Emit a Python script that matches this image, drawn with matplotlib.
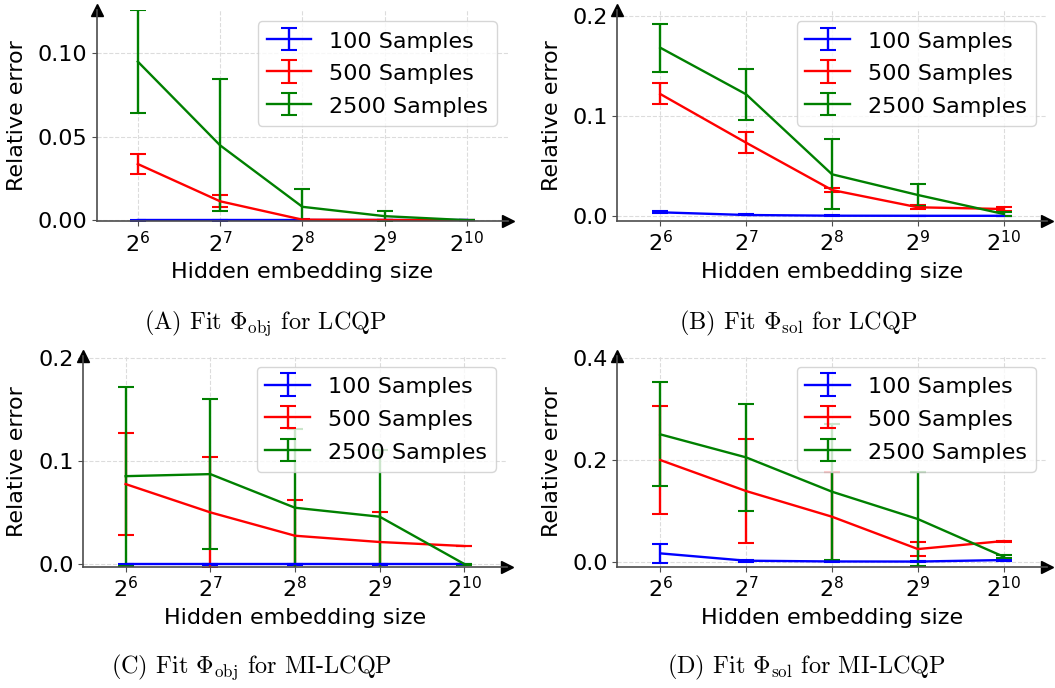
import matplotlib
matplotlib.use("Agg")
import matplotlib.pyplot as plt
from matplotlib.ticker import NullLocator, FormatStrFormatter

# ------------------------------------------------------------
# values
# ------------------------------------------------------------
HIDDEN = [64, 128, 256, 512, 1024]
LABELS = ["100 Samples", "500 Samples", "2500 Samples"]
COLORS = ["blue", "red", "green"]

# (A) Fit Phi_obj for LCQP
a_mean_100  = [0.0001, 0.0001, 0.0001, 0.0001, 0.0001]
a_err_100   = [0.0002, 0.0002, 0.0001, 0.0001, 0.0001]
a_mean_500  = [0.0338, 0.0115, 0.0005, 0.0003, 0.0001]
a_err_500   = [0.0058, 0.0035, 0.0003, 0.0002, 0.0001]
a_mean_2500 = [0.0951, 0.0450, 0.0082, 0.0026, 0.0002]
a_err_2500  = [0.0310, 0.0395, 0.0107, 0.0030, 0.0002]

# (B) Fit Phi_sol for LCQP
b_mean_100  = [0.0037, 0.0010, 0.0003, 0.0002, 0.0002]
b_err_100   = [0.0010, 0.0005, 0.0002, 0.0002, 0.0002]
b_mean_500  = [0.1220, 0.0733, 0.0260, 0.0087, 0.0070]
b_err_500   = [0.0105, 0.0107, 0.0020, 0.0020, 0.0020]
b_mean_2500 = [0.1683, 0.1217, 0.0417, 0.0210, 0.0020]
b_err_2500  = [0.0242, 0.0255, 0.0350, 0.0107, 0.0020]

# (C) Fit Phi_obj for MI-LCQP
c_mean_100  = [0.0000, 0.0000, 0.0000, 0.0000, 0.0000]
c_err_100   = [0.0005, 0.0005, 0.0005, 0.0005, 0.0005]
c_mean_500  = [0.0777, 0.0502, 0.0275, 0.0214, 0.0175]
c_err_500   = [0.0497, 0.0540, 0.0346, 0.0294, 0.0003]
c_mean_2500 = [0.0854, 0.0874, 0.0547, 0.0460, 0.0000]
c_err_2500  = [0.0870, 0.0730, 0.0770, 0.0650, 0.0005]

# (D) Fit Phi_sol for MI-LCQP
d_mean_100  = [0.0164, 0.0020, 0.0005, 0.0003, 0.0033]
d_err_100   = [0.0180, 0.0020, 0.0005, 0.0005, 0.0010]
d_mean_500  = [0.2000, 0.1390, 0.0885, 0.0249, 0.0407]
d_err_500   = [0.1066, 0.1017, 0.0870, 0.0138, 0.0010]
d_mean_2500 = [0.2505, 0.2052, 0.1377, 0.0839, 0.0098]
d_err_2500  = [0.1025, 0.1050, 0.1340, 0.0930, 0.0030]

CAPTIONS = [
    r"(A) Fit $\Phi_{\mathrm{obj}}$ for LCQP",
    r"(B) Fit $\Phi_{\mathrm{sol}}$ for LCQP",
    r"(C) Fit $\Phi_{\mathrm{obj}}$ for MI-LCQP",
    r"(D) Fit $\Phi_{\mathrm{sol}}$ for MI-LCQP",
]

# ------------------------------------------------------------
# layout (pixels of the 1055x688 canvas)
# ------------------------------------------------------------
W, H = 1055, 688
PANELS = [
    # box (left, top, right, bottom), ylim, yticks, fmt, ylabel x, xlabel y, caption (x, y)
    dict(box=(96.7, 10, 508, 221), ylim=(-0.0003, 0.126), yticks=[0, 0.05, 0.10],
         fmt="%.2f", ylab_x=17, xlab_y=272, cap=(265, 323)),
    dict(box=(617.3, 10, 1046.7, 220.7), ylim=(-0.0047, 0.206), yticks=[0, 0.1, 0.2],
         fmt="%.1f", ylab_x=552.5, xlab_y=272, cap=(798, 323)),
    dict(box=(83.3, 355.8, 506.7, 566.7), ylim=(-0.0026, 0.2024), yticks=[0, 0.1, 0.2],
         fmt="%.1f", ylab_x=17.5, xlab_y=618, cap=(252, 667)),
    dict(box=(617.3, 355.8, 1046.7, 566.7), ylim=(-0.0098, 0.405), yticks=[0, 0.2, 0.4],
         fmt="%.1f", ylab_x=552.5, xlab_y=618, cap=(806, 667)),
]

DATA = [
    [(a_mean_100, a_err_100), (a_mean_500, a_err_500), (a_mean_2500, a_err_2500)],
    [(b_mean_100, b_err_100), (b_mean_500, b_err_500), (b_mean_2500, b_err_2500)],
    [(c_mean_100, c_err_100), (c_mean_500, c_err_500), (c_mean_2500, c_err_2500)],
    [(d_mean_100, d_err_100), (d_mean_500, d_err_500), (d_mean_2500, d_err_2500)],
]

plt.rcParams["font.size"] = 16
plt.rcParams["mathtext.fontset"] = "cm"

fig = plt.figure(figsize=(W / 100, H / 100), dpi=100)

for spec, series in zip(PANELS, DATA):
    l, t, r, b = spec["box"]
    ax = fig.add_axes([l / W, 1 - b / H, (r - l) / W, (b - t) / H])

    for (mean, err), lbl, col in zip(series, LABELS, COLORS):
        ax.errorbar(HIDDEN, mean, yerr=err, color=col, lw=1.7,
                    capsize=6, capthick=1.5, label=lbl)

    ax.set_xscale("log", base=2)
    ax.set_xlim(2 ** 5.5, 2 ** 10.5)
    ax.set_xticks(HIDDEN)
    ax.xaxis.set_minor_locator(NullLocator())
    ax.set_ylim(*spec["ylim"])
    ax.set_yticks(spec["yticks"])
    ax.yaxis.set_major_formatter(FormatStrFormatter(spec["fmt"]))

    ax.grid(True, ls="--", color="#dcdcdc", lw=0.8)
    for side in ("top", "right"):
        ax.spines[side].set_visible(False)
    for side in ("left", "bottom"):
        ax.spines[side].set_color("0.3")
        ax.spines[side].set_linewidth(1.2)
    ax.tick_params(colors="0.3", labelcolor="black")

    # arrow heads at the end of both axes
    ax.plot(1, 0, ">k", transform=ax.transAxes, clip_on=False, ms=8)
    ax.plot(0, 1, "^k", transform=ax.transAxes, clip_on=False, ms=8)

    ax.set_ylabel("Relative error", va="center")
    ax.yaxis.set_label_coords((spec["ylab_x"] - l) / (r - l), 0.5)
    ax.set_xlabel("Hidden embedding size", va="center")
    ax.xaxis.set_label_coords(0.5, (b - spec["xlab_y"]) / (b - t))

    ax.legend(loc="upper right", fontsize=16, handleheight=1.0)

for spec, cap in zip(PANELS, CAPTIONS):
    cx, cy = spec["cap"]
    fig.text(cx / W, 1 - cy / H, cap, ha="center", va="center",
             fontsize=17.5, family="cmr10")

fig.savefig("out.png", dpi=100)
